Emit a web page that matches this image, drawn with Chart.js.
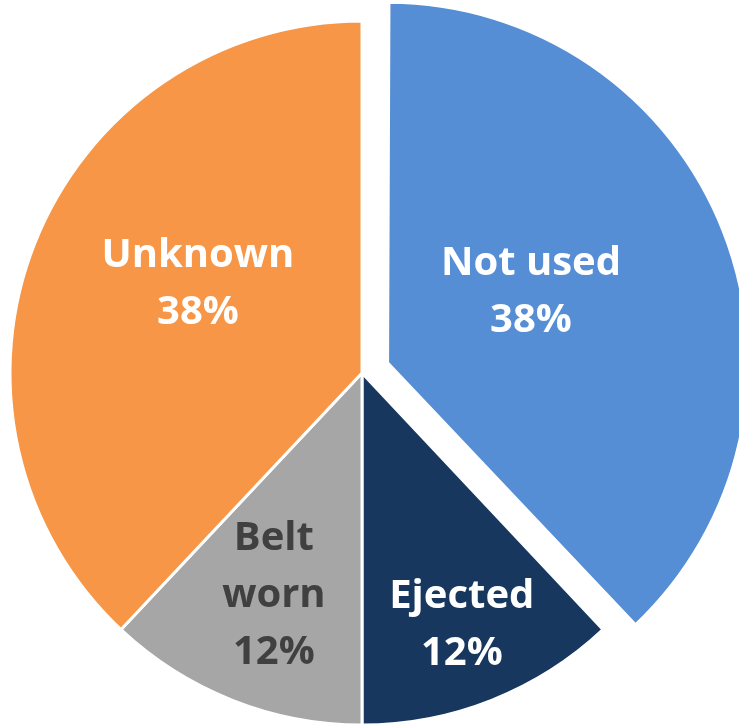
<!DOCTYPE html>
<html>
<head>
<meta charset="utf-8">
<script src="https://cdn.jsdelivr.net/npm/chart.js@4/dist/chart.umd.min.js"></script>
<style>
  html, body { margin: 0; padding: 0; background: #fff; overflow: hidden; }
  #pie { display: block; }
</style>
</head>
<body>
<canvas id="pie" width="739" height="725"></canvas>
<script>
// Categories and shares (%)
const categories = ['Not used', 'Ejected', ['Belt', 'worn'], 'Unknown'];
const shares = [38, 12, 12, 38];

// Slice styling (Chart.js moves an arc by offset/4 * (1 + fix), see arcShift)
const sliceColors = ['#558ED5', '#17375E', '#A6A6A6', '#F79646'];
const sliceOffsets = [110, 0, 0, 0];
const labelColors = ['#FFFFFF', '#FFFFFF', '#404040', '#FFFFFF'];

// Label placement inside each slice: fraction of the radius, and a small turn (deg)
const labelRadius = [0.43, 0.77, 0.68, 0.53];
const labelTurn = [-5, 0, 0, 6.8];

// same displacement ArcElement.draw applies for an offset slice
function arcShift(offset, circumference) {
  const fix = 1 - Math.sin(Math.min(Math.PI, circumference || 0));
  return offset / 4 * (1 + fix);
}

// Draws "name / xx%" inside every slice
const sliceLabels = {
  id: 'sliceLabels',
  afterDatasetsDraw(chart) {
    const ctx = chart.ctx;
    const meta = chart.getDatasetMeta(0);
    const data = chart.data.datasets[0].data;
    const total = data.reduce((a, b) => a + b, 0);

    ctx.save();
    ctx.font = 'bold 40px "Open Sans", sans-serif';
    ctx.textAlign = 'center';
    ctx.textBaseline = 'middle';

    meta.data.forEach((arc, i) => {
      const p = arc.getProps(['x', 'y', 'startAngle', 'endAngle', 'outerRadius', 'circumference'], true);
      const mid = (p.startAngle + p.endAngle) / 2;
      const shift = arcShift(arc.options.offset || 0, p.circumference);
      const cx = p.x + Math.cos(mid) * shift;
      const cy = p.y + Math.sin(mid) * shift;
      const a = mid + labelTurn[i] * Math.PI / 180;
      const r = p.outerRadius * labelRadius[i];
      const x = cx + Math.cos(a) * r;
      const y = cy + Math.sin(a) * r;

      const name = chart.data.labels[i];
      const lines = (Array.isArray(name) ? name : [name]).slice();
      lines.push(Math.round(data[i] / total * 100) + '%');

      const lineH = 57;
      const top = y - (lines.length - 1) * lineH / 2;
      ctx.fillStyle = labelColors[i];
      lines.forEach((t, k) => ctx.fillText(t, x, top + k * lineH));
    });
    ctx.restore();
  }
};

new Chart(document.getElementById('pie'), {
  type: 'pie',
  data: {
    labels: categories,
    datasets: [{
      data: shares,
      backgroundColor: sliceColors,
      borderColor: '#FFFFFF',
      borderWidth: 3,
      offset: sliceOffsets,
      clip: false
    }]
  },
  options: {
    responsive: false,
    animation: false,
    radius: 352,
    layout: { padding: { left: 0, right: 15, top: 21, bottom: 0 } },
    plugins: {
      legend: { display: false },
      tooltip: { enabled: false }
    }
  },
  plugins: [sliceLabels]
});
</script>
</body>
</html>
